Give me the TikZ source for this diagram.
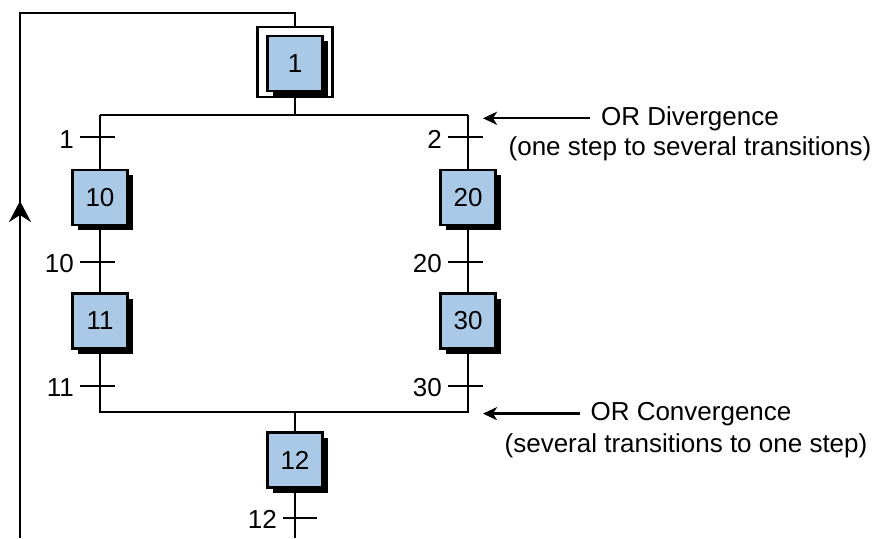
\documentclass[tikz,border=0pt]{standalone}
\usepackage{fontspec}
\setmainfont{Liberation Sans}
\usetikzlibrary{arrows.meta,shadows}
\definecolor{stepblue}{RGB}{169,201,230}
\begin{document}
\begin{tikzpicture}[x=0.5pt,y=-0.5pt, line width=1.2pt,
  every node/.style={font=\fontsize{13}{15}\selectfont},
  stepbox/.style={draw=black, line width=1.3pt, fill=stepblue,
    minimum width=27.5pt, minimum height=27.5pt, inner sep=0pt,
    drop shadow={shadow xshift=2.5pt, shadow yshift=-2.5pt, fill=black, opacity=1}},
  initbox/.style={draw=black, line width=1.3pt, minimum width=37.5pt, minimum height=35pt, inner sep=0pt},
  lbl/.style={inner sep=0pt, anchor=base east},
  anntext/.style={inner sep=0pt, anchor=base},
  tipL/.style={-{Stealth[length=10.5pt,width=11pt,inset=3.5pt]}},
  tipA/.style={-{Stealth[length=7pt,width=6.5pt,inset=2pt]}}
]
\useasboundingbox (0,0) rectangle (879,538);

% steps
\node[stepbox] (s1) at (295,63.5) {1};
\node[initbox] (s1o) at (295,62) {};
\node[stepbox] (s10) at (100,197.5) {10};
\node[stepbox] (s20) at (468,197.5) {20};
\node[stepbox] (s11) at (100,321) {11};
\node[stepbox] (s30) at (468,321) {30};
\node[stepbox] (s12) at (295,460) {12};

% coordinates
\coordinate (loopTR) at (295,13);
\coordinate (loopTL) at (20,13);
\coordinate (loopB) at (20,538);
\coordinate (loopTail) at (20,250);
\coordinate (loopTip) at (20,201);
\coordinate (divM) at (295,115);
\coordinate (divL) at (100,115);
\coordinate (divR) at (468,115);
\coordinate (convL) at (100,412);
\coordinate (convR) at (468,412);
\coordinate (convM) at (295,412);
\coordinate (mainB) at (295,538);
\coordinate (t1) at (100,137);
\coordinate (t2) at (468,137);
\coordinate (t10) at (100,262);
\coordinate (t20) at (468,262);
\coordinate (t11) at (100,386);
\coordinate (t30) at (468,386);
\coordinate (t12) at (295,518);
\coordinate (divTip) at (483,118);
\coordinate (convTip) at (483,413);

% connectors
\draw (s1o.north) -- (loopTR) -- (loopTL) -- (loopB);
\draw[tipL] (loopTail) -- (loopTip);
\draw (s1o.south) -- (divM);
\draw (divL) -- (divR);
\draw (divL) -- (s10.north);
\draw (divR) -- (s20.north);
\draw (s10) -- (s11);
\draw (s20) -- (s30);
\draw (s11.south) -- (convL) -- (convR) -- (s30.south);
\draw (convM) -- (s12);
\draw (s12) -- (mainB);

% transitions
\foreach \t in {t1,t2,t10,t20,t11,t30}{
  \draw ([xshift=-10pt]\t) -- ([xshift=7.5pt]\t);
}
\draw ([xshift=-6pt]t12) -- ([xshift=11pt]t12);
\node[lbl] (l1) at ([xshift=-12.5pt,yshift=-5.5pt]t1) {1};
\node[lbl] (l2) at ([xshift=-12.5pt,yshift=-5.5pt]t2) {2};
\node[lbl] (l10) at ([xshift=-12.5pt,yshift=-5pt]t10) {10};
\node[lbl] (l20) at ([xshift=-12.5pt,yshift=-5pt]t20) {20};
\node[lbl] (l11) at ([xshift=-12.5pt,yshift=-5pt]t11) {11};
\node[lbl] (l30) at ([xshift=-12.5pt,yshift=-5pt]t30) {30};
\node[lbl] (l12) at ([xshift=-8.5pt,yshift=-5pt]t12) {12};

% annotations
\node[anntext] (divA) at (690,125) {OR Divergence};
\node[anntext] (divB) at (690,155) {(one step to several transitions)};
\draw[tipA] ([xshift=-5pt]divA.west) -- (divA.west -| divTip);
\node[anntext] (convA) at (691,420) {OR Convergence};
\node[anntext] (convB) at (686,452) {(several transitions to one step)};
\draw[tipA] ([xshift=-4.5pt]convA.west) -- (convA.west -| convTip);
\end{tikzpicture}
\end{document}
